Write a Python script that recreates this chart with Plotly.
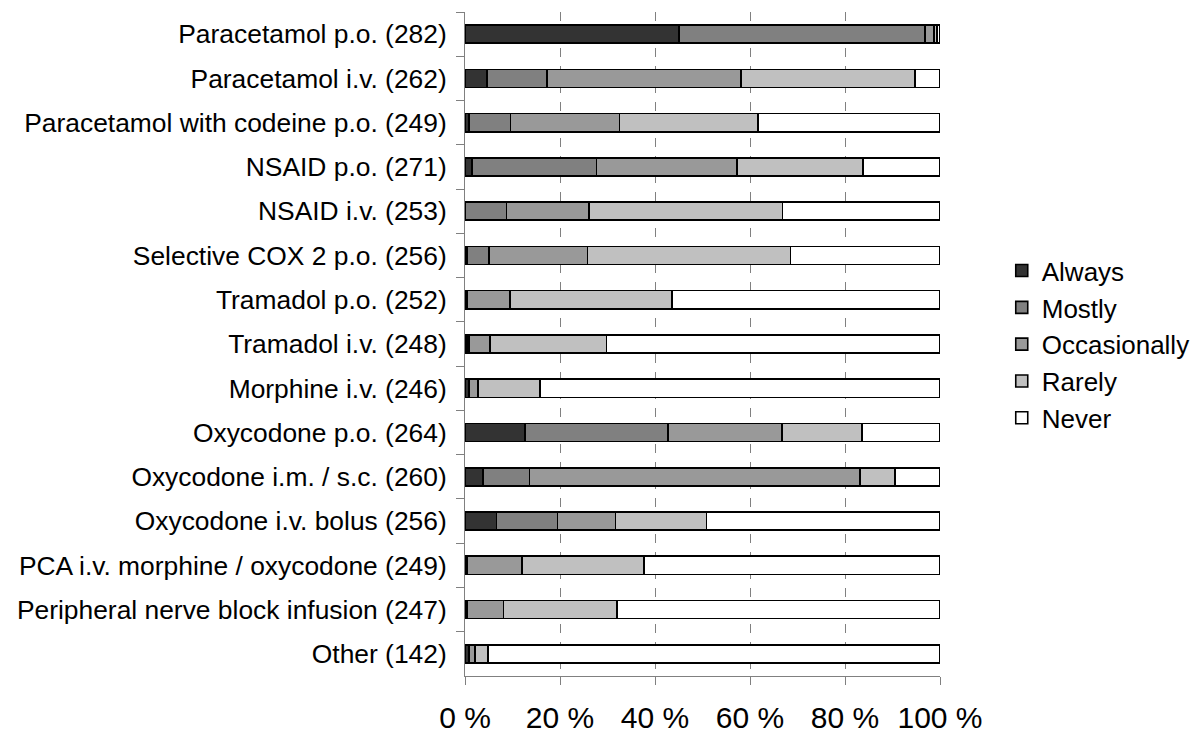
import plotly.graph_objects as go

categories = [
    "Paracetamol p.o. (282)",
    "Paracetamol i.v. (262)",
    "Paracetamol with codeine p.o. (249)",
    "NSAID p.o. (271)",
    "NSAID i.v. (253)",
    "Selective COX 2 p.o. (256)",
    "Tramadol p.o. (252)",
    "Tramadol i.v. (248)",
    "Morphine i.v. (246)",
    "Oxycodone p.o. (264)",
    "Oxycodone i.m. / s.c. (260)",
    "Oxycodone i.v. bolus (256)",
    "PCA i.v. morphine / oxycodone (249)",
    "Peripheral nerve block infusion (247)",
    "Other (142)",
]

always =       [45.0, 4.6, 0.8, 1.5, 0.0, 0.4, 0.4, 0.4, 0.8, 12.6, 3.8, 6.6, 0.4, 0.4, 0.8]
mostly =       [51.8, 12.7, 8.8, 26.2, 8.7, 4.7, 0.0, 0.4, 0.0, 30.1, 9.8, 12.9, 0.0, 0.0, 0.0]
occasionally = [1.9, 40.8, 22.9, 29.5, 17.4, 20.7, 9.1, 4.5, 1.9, 24.0, 69.5, 12.2, 11.6, 7.7, 1.3]
rarely =       [0.7, 36.6, 29.2, 26.6, 40.7, 42.7, 34.1, 24.5, 13.1, 16.9, 7.4, 19.1, 25.7, 23.9, 2.7]
never =        [0.6, 5.3, 38.3, 16.2, 33.2, 31.5, 56.4, 70.2, 84.2, 16.4, 9.5, 49.2, 62.3, 68.0, 95.2]

series_names = ["Always", "Mostly", "Occasionally", "Rarely", "Never"]
series_values = [always, mostly, occasionally, rarely, never]
series_colors = ["#333333", "#808080", "#999999", "#c0c0c0", "#ffffff"]

x_tickvals = [0, 20, 40, 60, 80, 100]
x_ticktext = ["0 %", "20 %", "40 %", "60 %", "80 %", "100 %"]

FONT = "Liberation Sans, Arial, sans-serif"

fig = go.Figure()
for name, vals, col in zip(series_names, series_values, series_colors):
    fig.add_trace(go.Bar(
        y=categories, x=vals, name=name, orientation="h",
        marker=dict(color=col, line=dict(color="black", width=1.6)),
    ))

# the page body has an 8px margin, so the figure is sized to fit the window
fig.update_layout(
    barmode="stack",
    bargap=0.59,
    width=1192, height=729,
    margin=dict(l=457, r=260, t=4, b=61, autoexpand=False),
    plot_bgcolor="white", paper_bgcolor="white",
    font=dict(family=FONT, color="black"),
    legend=dict(
        x=1.13, y=0.499, xanchor="left", yanchor="middle",
        font=dict(size=26, family=FONT, color="black"),
        traceorder="normal",
        bgcolor="rgba(0,0,0,0)",
    ),
    showlegend=True,
)

fig.update_xaxes(
    range=[0, 100],
    tickvals=x_tickvals, ticktext=x_ticktext,
    tickfont=dict(size=30, family=FONT, color="black"),
    showgrid=True, gridcolor="#808080", griddash="dash", gridwidth=1,
    showline=True, linecolor="#808080", linewidth=1,
    ticks="outside", ticklen=8, tickcolor="#808080", tickwidth=1,
    zeroline=False,
    ticklabelstandoff=7,
    automargin=False,
)

fig.update_yaxes(
    autorange="reversed",
    tickfont=dict(size=26.4, family=FONT, color="black"),
    showline=True, linecolor="#808080", linewidth=1,
    ticks="outside", ticklen=8, tickcolor="#808080", tickwidth=1,
    tickson="boundaries",
    showgrid=False,
    ticklabelstandoff=12,
    automargin=False,
)

fig.write_html("out.html")
